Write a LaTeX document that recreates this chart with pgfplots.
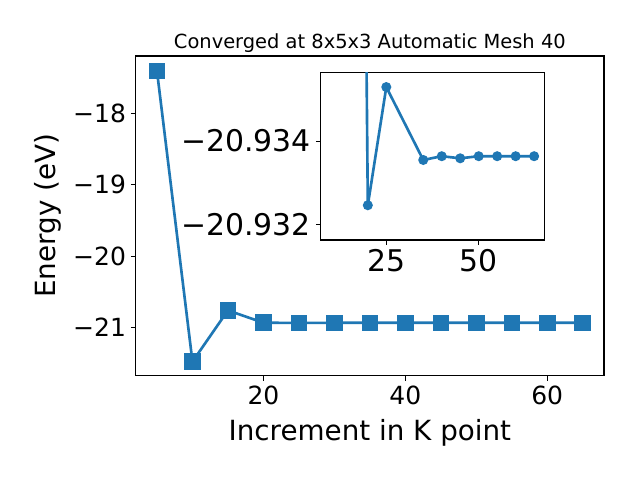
\documentclass[border=0pt]{standalone}
\usepackage{pgfplots}
\pgfplotsset{compat=1.18}
\usepackage{fontspec}
\setmainfont{DejaVu Sans}
\definecolor{mplblue}{HTML}{1F77B4}
\begin{document}
\begin{tikzpicture}
\path[fill=white] (0,0) rectangle (460.8pt,345.6pt);
\begin{axis}[at={(97.7pt,75.1pt)}, anchor=south west, scale only axis,
  width=337.2pt, height=230.2pt,
  xmin=2, xmax=68, ymin=-21.6735, ymax=-17.2,
  xtick={20,40,60}, xticklabels={20,40,60},
  ytick={-21,-20,-19,-18}, yticklabels={−21,−20,−19,−18},
  tick align=outside, tick pos=left, major tick length=3.5pt,
  tick style={black, line width=0.8pt},
  axis line style={line width=0.8pt},
  ticklabel style={font=\fontsize{18}{21}\selectfont},
  xlabel={Increment in K point}, ylabel={Energy (eV)},
  label style={font=\fontsize{20}{24}\selectfont},
  xlabel style={yshift=-4pt},
  ylabel style={yshift=2pt},
  title={Converged at 8x5x3 Automatic Mesh 40},
  title style={font=\fontsize{14}{17}\selectfont, yshift=-7pt},
  clip=false]
\addplot[mplblue, line width=1.9pt, mark=square*, mark size=5pt, mark options={solid, fill=mplblue}] coordinates {
(5,-17.41) (10,-21.477) (15,-20.76) (20,-20.9325) (25,-20.9353) (30,-20.9336) (35,-20.9336) (40,-20.9336) (45,-20.9336) (50,-20.9336) (55,-20.9336) (60,-20.9336) (65,-20.9336)};
\end{axis}
\begin{axis}[at={(230.9pt,172.8pt)}, anchor=south west, scale only axis,
  width=161pt, height=120.7pt,
  y dir=reverse,
  xmin=7.25, xmax=67.75, ymin=-20.93564, ymax=-20.93164,
  xtick={25,50}, xticklabels={25,50},
  ytick={-20.934,-20.932}, yticklabels={−20.934,−20.932},
  tick align=outside, tick pos=left, major tick length=3.5pt,
  tick style={black, line width=0.8pt},
  axis line style={line width=0.8pt},
  axis background/.style={fill=white},
  ticklabel style={font=\fontsize{21.5}{25}\selectfont},
  clip=true]
\addplot[mplblue, line width=1.9pt, mark=*, mark size=2.6pt, mark options={solid, fill=mplblue}] coordinates {
(15,-20.98) (20,-20.93247) (25,-20.93529) (35,-20.93355) (40,-20.93364) (45,-20.93359) (50,-20.93364) (55,-20.93364) (60,-20.93364) (65,-20.93364)};
\end{axis}
\end{tikzpicture}
\end{document}
